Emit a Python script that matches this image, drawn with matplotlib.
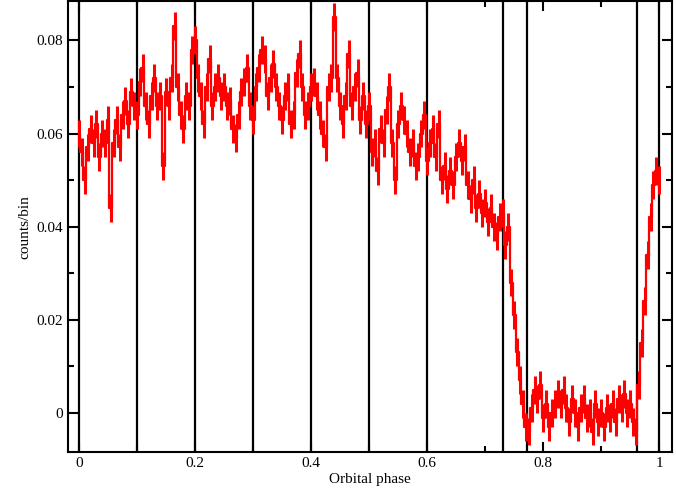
import matplotlib
matplotlib.use('Agg')
import matplotlib.pyplot as plt
from matplotlib.ticker import MultipleLocator

# binned light curve, bin width 0.005 in phase
phase_start = 0.0
bin_width = 0.005
rate = [
    0.060, 0.056, 0.050, 0.057, 0.061, 0.058, 0.062, 0.055, 0.060, 0.058,
    0.063, 0.044, 0.058, 0.063, 0.057, 0.064, 0.067, 0.062, 0.069, 0.066,
    0.064, 0.071, 0.074, 0.066, 0.062, 0.068, 0.072, 0.066, 0.068, 0.053,
    0.069, 0.066, 0.072, 0.083, 0.070, 0.064, 0.061, 0.068, 0.066, 0.078,
    0.080, 0.072, 0.068, 0.062, 0.070, 0.076, 0.066, 0.070, 0.072, 0.068,
    0.070, 0.066, 0.067, 0.061, 0.059, 0.064, 0.069, 0.071, 0.074, 0.066,
    0.063, 0.070, 0.074, 0.078, 0.076, 0.068, 0.072, 0.075, 0.070, 0.066,
    0.063, 0.068, 0.070, 0.062, 0.064, 0.073, 0.077, 0.070, 0.064, 0.066,
    0.070, 0.071, 0.068, 0.064, 0.060, 0.057, 0.070, 0.072, 0.085, 0.072,
    0.066, 0.062, 0.068, 0.077, 0.066, 0.070, 0.073, 0.063, 0.068, 0.062,
    0.066, 0.056, 0.058, 0.052, 0.061, 0.058, 0.065, 0.070, 0.058, 0.050,
    0.062, 0.066, 0.063, 0.060, 0.056, 0.058, 0.053, 0.055, 0.060, 0.064,
    0.054, 0.058, 0.061, 0.055, 0.062, 0.050, 0.053, 0.048, 0.052, 0.049,
    0.055, 0.058, 0.054, 0.057, 0.049, 0.046, 0.050, 0.044, 0.047, 0.043,
    0.045, 0.041, 0.044, 0.040, 0.038, 0.042, 0.043, 0.036, 0.040, 0.028,
    0.021, 0.013, 0.007, 0.002, -0.003, -0.004, 0.001, 0.005, 0.003, 0.006,
    -0.001, 0.002, -0.003, 0.000, 0.002, 0.004, 0.002, 0.005, 0.001, -0.002,
    0.003, 0.000, -0.003, 0.001, 0.003, -0.001, 0.000, -0.004, 0.002, -0.002,
    0.000, -0.003, 0.001, -0.001, 0.002, -0.002, 0.003, 0.001, 0.004, 0.000,
    0.002, -0.002, -0.004, 0.006, 0.015, 0.024, 0.034, 0.042, 0.049, 0.052,
    0.050,
]
rate_err = 0.003
phase = [phase_start + i * bin_width for i in range(len(rate))]

# phase boundaries marked on the plot
marker_phases = [0.0, 0.1, 0.2, 0.3, 0.4, 0.5, 0.6, 0.731, 0.772, 0.962, 1.0]

plt.rcParams['font.family'] = ['Liberation Serif', 'DejaVu Serif']

fig = plt.figure(figsize=(6.76, 4.91), dpi=100)
ax = fig.add_axes([0.1006, 0.0794, 0.8935, 0.918])

for p in marker_phases:
    ax.axvline(p, color='black', lw=1.6, zorder=1)

ax.step(phase, rate, where='mid', color='red', lw=1.6, zorder=3)
ax.errorbar(phase, rate, yerr=rate_err, fmt='none', ecolor='red',
            elinewidth=2.2, zorder=3)

ax.set_xlim(-0.019, 1.022)
ax.set_ylim(-0.0084, 0.0884)
ax.xaxis.set_major_locator(MultipleLocator(0.2))
ax.xaxis.set_minor_locator(MultipleLocator(0.1))
ax.yaxis.set_major_locator(MultipleLocator(0.02))
ax.yaxis.set_minor_locator(MultipleLocator(0.01))
ax.xaxis.set_major_formatter(plt.FuncFormatter(lambda v, _: '%g' % round(v, 3)))
ax.yaxis.set_major_formatter(plt.FuncFormatter(lambda v, _: '%g' % round(v, 3)))

ax.tick_params(which='both', direction='in', top=True, right=True,
               labelsize=11, width=1.5)
ax.tick_params(which='major', length=7)
ax.tick_params(which='minor', length=4)
for s in ax.spines.values():
    s.set_linewidth(1.5)

ax.set_xlabel('Orbital phase', fontsize=11, labelpad=2)
ax.set_ylabel('counts/bin', fontsize=11, labelpad=4)

fig.savefig('out.png', dpi=100)
